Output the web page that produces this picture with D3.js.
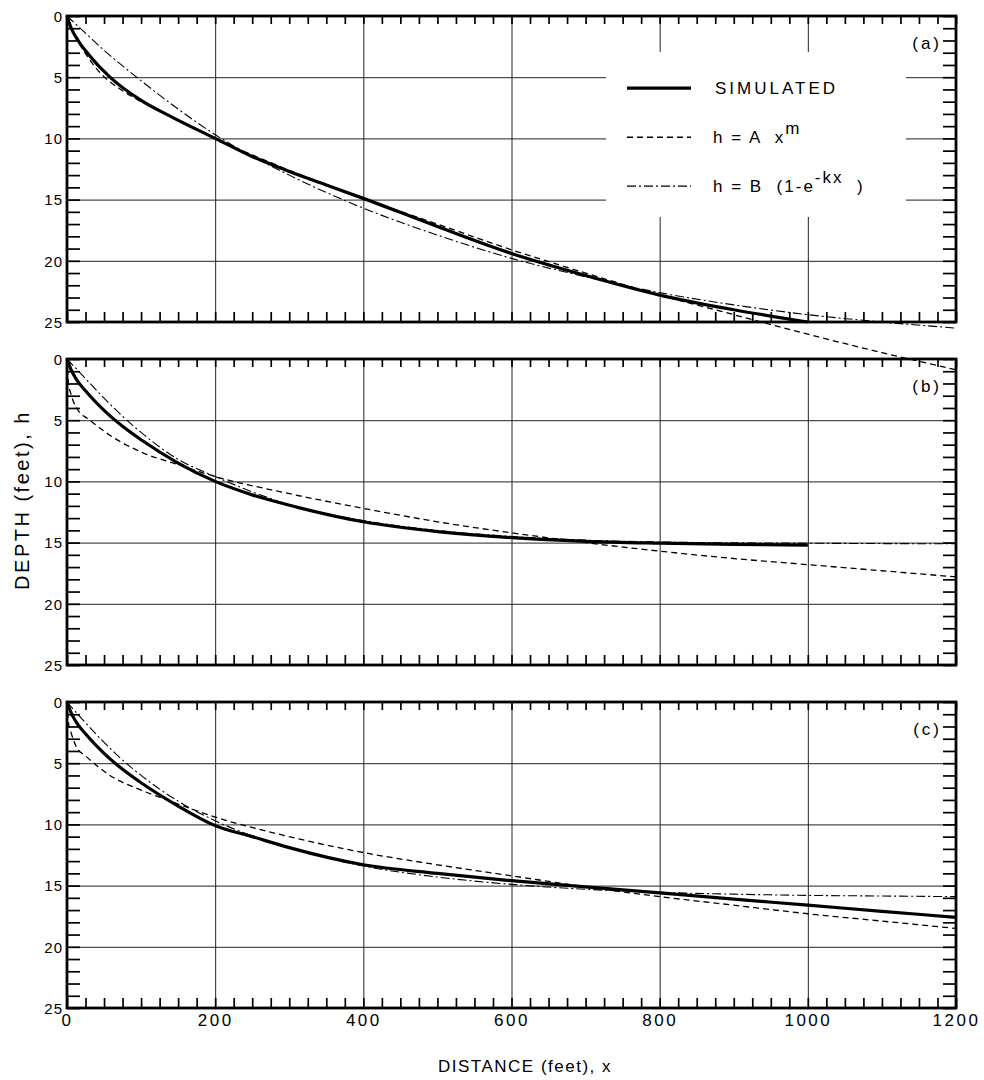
<!DOCTYPE html>
<html lang="en">
<head>
<meta charset="UTF-8">
<title>Depth profiles</title>
<style>
    body { margin: 0; background: #fff; }
    svg text { font-family: "Liberation Sans", Arial, sans-serif; fill: #000; white-space: pre; }
    .grid line { stroke: #222; stroke-width: 1; }
    .grid path { display: none; }
    .minor path { display: none; }
    .minor line { stroke: #000; stroke-width: 1.7; }
    .frame { fill: none; stroke: #000; stroke-width: 2.8; }
</style>
</head>
<body>
<div id="chart"></div>
<script src="https://d3js.org/d3.v7.min.js"></script>
<script>
// axis values
const xTicks = [0, 200, 400, 600, 800, 1000, 1200];
const yTicks = [0, 5, 10, 15, 20, 25];
const panelLabels = ["(a)", "(b)", "(c)"];

// panel (a): [distance x, depth h]
const simulatedA = [[0,0],[5,0.9],[15,2.0],[30,3.2],[58,5.0],[100,6.9],[143,8.3],[200,10.0],[247,11.4],[300,12.7],[350,13.8],[400,14.9],[500,17.2],[600,19.4],[700,21.2],[800,22.8],[900,24.0],[1000,25.0]];
const powerA = [[0,0],[5,1.0],[10,1.6],[20,2.6],[44,4.6],[75,6.1],[100,7.0],[130,7.9],[200,10.0],[300,12.6],[400,14.9],[500,17.0],[600,19.1],[700,21.0],[800,22.8],[900,24.4],[1000,26.0],[1100,27.5],[1200,28.9]];
const expA = [[0,0],[25,1.4],[50,2.8],[94,5.0],[150,7.6],[200,9.7],[300,13.0],[400,15.7],[500,17.9],[600,19.8],[700,21.3],[800,22.6],[900,23.6],[1000,24.4],[1100,25.0],[1200,25.5]];

// panel (b)
const simulatedB = [[0,0],[5,0.8],[12,1.6],[25,2.6],[50,4.2],[75,5.5],[100,6.6],[150,8.5],[200,10.0],[250,11.1],[310,12.1],[400,13.3],[500,14.1],[600,14.6],[700,14.9],[800,15.05],[900,15.15],[1000,15.2]];
const powerB = [[0,0],[2,2.0],[5,2.8],[13,4.0],[31,5.0],[50,5.9],[100,7.6],[148,8.6],[200,9.6],[300,11.0],[400,12.2],[500,13.3],[600,14.2],[700,15.0],[800,15.7],[900,16.3],[1000,16.8],[1100,17.3],[1200,17.8]];
const expB = [[0,0],[25,1.6],[50,3.2],[100,6.0],[150,8.2],[200,9.6],[300,11.9],[400,13.2],[500,14.0],[600,14.5],[700,14.8],[800,14.95],[1000,15.05],[1200,15.1]];

// panel (c)
const simulatedC = [[0,0],[5,0.8],[12,1.6],[25,2.6],[50,4.2],[75,5.5],[100,6.6],[150,8.5],[200,10.1],[250,11.0],[300,11.9],[400,13.3],[500,14.0],[600,14.6],[700,15.1],[800,15.6],[900,16.1],[1000,16.6],[1100,17.1],[1200,17.6]];
const powerC = [[0,0],[2,1.7],[5,2.4],[13,3.7],[25,4.4],[58,6.0],[100,7.2],[135,8.0],[200,9.4],[300,11.0],[400,12.3],[500,13.3],[600,14.2],[700,15.1],[800,15.9],[900,16.6],[1000,17.3],[1100,17.9],[1200,18.5]];
const expC = [[0,0],[25,1.7],[67,4.3],[100,6.0],[150,8.1],[200,9.7],[300,11.9],[400,13.4],[500,14.3],[600,14.9],[700,15.3],[800,15.55],[900,15.7],[1000,15.8],[1100,15.85],[1200,15.9]];

const panels = [
    { label: panelLabels[0], sim: simulatedA, pow: powerA, exp: expA },
    { label: panelLabels[1], sim: simulatedB, pow: powerB, exp: expB },
    { label: panelLabels[2], sim: simulatedC, pow: powerC, exp: expC }
];

const width = 984, height = 1080;
const left = 67, right = 956;
const panelTops = [16, 359, 702];
const panelH = 306;

const svg = d3.select('#chart').append('svg')
    .attr('width', width)
    .attr('height', height);

const x = d3.scaleLinear().domain([0, 1200]).range([left, right]);

panels.forEach((p, i) => {
    const top = panelTops[i];
    const y = d3.scaleLinear().domain([0, 25]).range([top, top + panelH]);
    const g = svg.append('g');

    // grid lines
    g.append('g').attr('class', 'grid')
        .attr('transform', `translate(0,${top})`)
        .call(d3.axisBottom(x).tickValues(xTicks).tickSize(panelH).tickFormat(''));
    g.append('g').attr('class', 'grid')
        .attr('transform', `translate(${left},0)`)
        .call(d3.axisRight(y).tickValues(yTicks).tickSize(right - left).tickFormat(''));

    // minor ticks, pointing inward on all four sides
    const xMinor = d3.range(0, 1201, 25);
    const yMinor = d3.range(0, 26, 1);
    g.append('g').attr('class', 'minor')
        .attr('transform', `translate(0,${top})`)
        .call(d3.axisBottom(x).tickValues(xMinor).tickSize(8).tickFormat(''));
    g.append('g').attr('class', 'minor')
        .attr('transform', `translate(0,${top + panelH})`)
        .call(d3.axisTop(x).tickValues(xMinor).tickSize(10).tickFormat(''));
    g.append('g').attr('class', 'minor')
        .attr('transform', `translate(${left},0)`)
        .call(d3.axisRight(y).tickValues(yMinor).tickSize(13).tickFormat(''));
    g.append('g').attr('class', 'minor')
        .attr('transform', `translate(${right},0)`)
        .call(d3.axisLeft(y).tickValues(yMinor).tickSize(13).tickFormat(''));

    // y labels
    const yAxis = g.append('g')
        .attr('transform', `translate(${left},0)`)
        .call(d3.axisLeft(y).tickValues(yTicks).tickSize(0).tickPadding(4));
    yAxis.select('.domain').remove();
    yAxis.selectAll('text').style('font-size', '15px').style('letter-spacing', '1px').attr('dy', '0.35em');

    // x labels only under last panel
    if (i === panels.length - 1) {
        const xAxis = g.append('g')
            .attr('transform', `translate(0,${top + panelH})`)
            .call(d3.axisBottom(x).tickValues(xTicks).tickSize(0).tickPadding(6).tickFormat(d3.format('d')));
        xAxis.select('.domain').remove();
        xAxis.selectAll('text').style('font-size', '17px').style('letter-spacing', '2.5px');
    }

    g.append('rect').attr('class', 'frame')
        .attr('x', left).attr('y', top)
        .attr('width', right - left).attr('height', panelH);

    // legend in panel (a), on a white patch over the grid
    if (i === 0) {
        const lg = g.append('g');
        lg.append('rect').attr('x', 606).attr('y', 52).attr('width', 300).attr('height', 165).attr('fill', '#fff');
        const rows = [
            { yv: y(5.9), dash: null, w: 3.2 },
            { yv: y(9.9), dash: '6,4', w: 1.4 },
            { yv: y(13.9), dash: '9,3,2,3', w: 1.1 }
        ];
        rows.forEach(r => {
            lg.append('line').attr('x1', 627).attr('x2', 691)
                .attr('y1', r.yv).attr('y2', r.yv)
                .attr('stroke', '#000').attr('stroke-width', r.w)
                .attr('stroke-dasharray', r.dash);
        });
        lg.append('text').attr('x', 715).attr('y', rows[0].yv).attr('dy', '0.36em')
            .style('font-size', '17px').style('letter-spacing', '3px').text('SIMULATED');
        const t1 = lg.append('text').attr('x', 713).attr('y', rows[1].yv).attr('dy', '0.36em')
            .style('font-size', '17px').style('letter-spacing', '2px');
        t1.append('tspan').text('h = A  x');
        t1.append('tspan').attr('dy', '-0.55em').text('m');
        const t2 = lg.append('text').attr('x', 713).attr('y', rows[2].yv).attr('dy', '0.36em')
            .style('font-size', '17px').style('letter-spacing', '2px');
        t2.append('tspan').text('h = B  (1-e');
        t2.append('tspan').attr('dy', '-0.55em').text('-kx');
        t2.append('tspan').attr('dy', '0.55em').text('  )');
    }

    // panel label
    g.append('text').attr('x', 942).attr('y', top + 27)
        .attr('text-anchor', 'end').attr('dy', '0.35em')
        .style('font-size', '17px').style('letter-spacing', '3px')
        .text(p.label);

    // curves (not clipped: fitted curves run past the frame as in the original)
    const line = d3.line().x(d => x(d[0])).y(d => y(d[1])).curve(d3.curveMonotoneX);
    g.append('path').datum(p.exp).attr('d', line)
        .attr('fill', 'none').attr('stroke', '#000').attr('stroke-width', 1.1)
        .attr('stroke-dasharray', '9,3,2,3');
    g.append('path').datum(p.pow).attr('d', line)
        .attr('fill', 'none').attr('stroke', '#000').attr('stroke-width', 1.3)
        .attr('stroke-dasharray', '6,4');
    g.append('path').datum(p.sim).attr('d', line)
        .attr('fill', 'none').attr('stroke', '#000').attr('stroke-width', 3.2);
});

// axis titles
svg.append('text')
    .attr('x', 525).attr('y', 1066)
    .attr('text-anchor', 'middle').attr('dy', '0.35em')
    .style('font-size', '17px').style('letter-spacing', '1.5px')
    .text('DISTANCE (feet), x');

svg.append('text')
    .attr('transform', `translate(22,500) rotate(-90)`)
    .attr('text-anchor', 'middle').attr('dy', '0.35em')
    .style('font-size', '20px').style('letter-spacing', '2.5px')
    .text('DEPTH (feet), h');
</script>
</body>
</html>
